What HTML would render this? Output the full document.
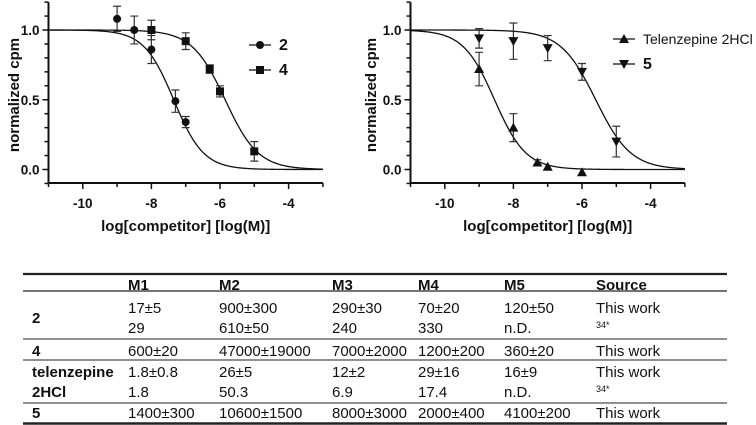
<!DOCTYPE html>
<html><head><meta charset="utf-8"><style>
html,body{margin:0;padding:0;background:#fff;}
svg{display:block;font-family:"Liberation Sans",sans-serif;}
</style></head><body>
<svg id="fig" width="756" height="425" viewBox="0 0 756 425" xmlns="http://www.w3.org/2000/svg">
<g id="left"></g>
<g id="right"></g>
<g id="table" font-size="15" fill="#111"></g>
</svg>
<script>
// chart data
const xTicks = [-10, -8, -6, -4];
const yTicks = [0.0, 0.5, 1.0];
const s2x = [-9, -8.5, -8, -7.3, -7];
const s2y = [1.08, 1.0, 0.86, 0.49, 0.34];
const s2e = [0.09, 0.1, 0.1, 0.08, 0.04];
const s4x = [-8, -7, -6.3, -6, -5];
const s4y = [1.0, 0.92, 0.72, 0.56, 0.13];
const s4e = [0.07, 0.06, 0.03, 0.04, 0.07];
const stx = [-9, -8, -7.3, -7, -6];
const sty = [0.72, 0.30, 0.05, 0.02, -0.02];
const ste = [0.12, 0.1, 0.02, 0.0, 0.0];
const s5x = [-9, -8, -7, -6, -5];
const s5y = [0.94, 0.92, 0.87, 0.70, 0.20];
const s5e = [0.07, 0.13, 0.09, 0.06, 0.11];
const fitLogIC50 = [-7.35, -5.85, -8.55, -5.6];
const fitHill = [1.0, 0.9, 0.95, 0.85];

const NS = "http://www.w3.org/2000/svg";
function mk(tag, attrs, parent) {
  const e = document.createElementNS(NS, tag);
  for (const k in attrs) e.setAttribute(k, attrs[k]);
  parent.appendChild(e);
  return e;
}
function marker(g, type, cx, cy) {
  let e;
  if (type === 'circle') e = mk('circle', {cx: cx, cy: cy, r: 4, fill: '#111'}, g);
  else if (type === 'square') e = mk('rect', {x: cx - 4, y: cy - 4, width: 8, height: 8, fill: '#111'}, g);
  else if (type === 'up') e = mk('polygon', {points: `${cx},${cy - 5} ${cx - 5},${cy + 4} ${cx + 5},${cy + 4}`, fill: '#111'}, g);
  else e = mk('polygon', {points: `${cx},${cy + 5} ${cx - 5},${cy - 4} ${cx + 5},${cy - 4}`, fill: '#111'}, g);
  return e;
}
function drawChart(g, x0, ylabX, series, legend) {
  const sx = v => x0 + (v + 11) * 34.3;
  const sy = v => 169.5 - 139.5 * v;
  const ya = mk('line', {x1: x0, y1: sy(1.2), x2: x0, y2: 183, stroke: '#111', 'stroke-width': 2}, g);
  
  
  const xa = mk('line', {x1: x0 - 1, y1: 183, x2: sx(-3), y2: 183, stroke: '#111', 'stroke-width': 2}, g);
  
  
  for (let i = -1; i <= 12; i++) {
    const v = i / 10;
    const major = Math.abs(v - Math.round(v * 2) / 2) < 1e-9;
    mk('line', {x1: x0 - (major ? 6 : 4), y1: sy(v), x2: x0, y2: sy(v), stroke: '#111', 'stroke-width': 1.5}, g);
  }
  yTicks.forEach(v => {
    const t = mk('text', {x: x0 - 9, y: sy(v) + 5, 'text-anchor': 'end', 'font-size': 13.5, 'font-weight': 'bold', fill: '#111'}, g);
    t.textContent = v.toFixed(1);
    
    
  });
  for (let v = -11; v <= -3; v++) {
    const major = xTicks.includes(v);
    mk('line', {x1: sx(v), y1: 183, x2: sx(v), y2: 183 + (major ? 6 : 4), stroke: '#111', 'stroke-width': 1.5}, g);
  }
  xTicks.forEach(v => {
    const t = mk('text', {x: sx(v), y: 208, 'text-anchor': 'middle', 'font-size': 13.5, 'font-weight': 'bold', fill: '#111'}, g);
    t.textContent = String(v);
    
    
  });
  const xt = mk('text', {x: (x0 + sx(-3)) / 2, y: 231, 'text-anchor': 'middle', 'font-size': 15, 'font-weight': 'bold', fill: '#111'}, g);
  xt.textContent = 'log[competitor] [log(M)]';
  
  
  const yt = mk('text', {x: 0, y: 0, transform: `translate(${ylabX},95) rotate(-90)`, 'text-anchor': 'middle', 'font-size': 15, 'font-weight': 'bold', fill: '#111'}, g);
  yt.textContent = 'normalized cpm';
  
  
  series.forEach((s, si) => {
    const sg = mk('g', {}, g);
    
    
    let d = '';
    for (let k = 0; k <= 200; k++) {
      const v = -11 + 8 * k / 200;
      const yv = 1 / (1 + Math.pow(10, (v - fitLogIC50[s.fit]) * fitHill[s.fit]));
      d += (k ? 'L' : 'M') + sx(v).toFixed(2) + ',' + sy(yv).toFixed(2);
    }
    const c = mk('path', {d: d, fill: 'none', stroke: '#111', 'stroke-width': 1.3}, sg);
    
    
    s.x.forEach((xv, i) => {
      const cx = sx(xv), cy = sy(s.y[i]), e = s.e[i];
      if (e > 0) {
        const eb = mk('path', {d: `M${cx},${sy(s.y[i] + e)}V${sy(s.y[i] - e)}M${cx - 4},${sy(s.y[i] + e)}h8M${cx - 4},${sy(s.y[i] - e)}h8`, stroke: '#333', 'stroke-width': 1.2, fill: 'none'}, sg);
        
        
      }
      const m = marker(sg, s.m, cx, cy);
      
      
    });
  });
  legend.forEach(l => {
    const lg = mk('g', {}, g);
    
    
    mk('line', {x1: l.x, y1: l.y, x2: l.x + 22, y2: l.y, stroke: '#111', 'stroke-width': 1.3}, lg);
    marker(lg, l.m, l.x + 11, l.y);
    const t = mk('text', {x: l.x + 30, y: l.y + 5, 'font-size': l.size, 'font-weight': l.bold ? 'bold' : 'normal', fill: '#111'}, lg);
    t.textContent = l.label;
  });
}
drawChart(document.getElementById('left'), 48.5, 19,
  [{name: '2', x: s2x, y: s2y, e: s2e, m: 'circle', fit: 0},
   {name: '4', x: s4x, y: s4y, e: s4e, m: 'square', fit: 1}],
  [{x: 249, y: 45, m: 'circle', label: '2', size: 16, bold: true},
   {x: 249, y: 70, m: 'square', label: '4', size: 16, bold: true}]);
drawChart(document.getElementById('right'), 410.5, 376,
  [{name: 'telenzepine', x: stx, y: sty, e: ste, m: 'up', fit: 2},
   {name: '5', x: s5x, y: s5y, e: s5e, m: 'down', fit: 3}],
  [{x: 613, y: 39, m: 'up', label: 'Telenzepine 2HCl', size: 14, bold: false},
   {x: 613, y: 64, m: 'down', label: '5', size: 16, bold: true}]);

// table
const tg = document.getElementById('table');
const colX = [32, 128, 219, 332, 418, 504, 596];
const header = ['', 'M1', 'M2', 'M3', 'M4', 'M5', 'Source'];
const rows = [
  [308, ['2', '17±5', '900±300', '290±30', '70±20', '120±50', 'This work']],
  [328, ['', '29', '610±50', '240', '330', 'n.D.', '34*']],
  [351, ['4', '600±20', '47000±19000', '7000±2000', '1200±200', '360±20', 'This work']],
  [372, ['telenzepine', '1.8±0.8', '26±5', '12±2', '29±16', '16±9', 'This work']],
  [392, ['2HCl', '1.8', '50.3', '6.9', '17.4', 'n.D.', '34*']],
  [413, ['5', '1400±300', '10600±1500', '8000±3000', '2000±400', '4100±200', 'This work']]
];
function tline(y, w, name) {
  const l = mk('line', {x1: 23, x2: 727, y1: y, y2: y, stroke: '#222', 'stroke-width': w}, tg);
  
  
}
tline(274, 2.2, 'table-top-rule');
tline(291, 1.2, 'header-rule');
tline(339, 1, 'row-rule');
tline(360, 1, 'row-rule');
tline(403, 1, 'row-rule');
tline(423.5, 2.5, 'table-bottom-rule');
header.forEach((h, i) => {
  const t = mk('text', {x: colX[i], y: 290, 'font-weight': 'bold'}, tg);
  t.textContent = h;
  
  
});
rows.forEach(r => {
  const y = r[0], cells = r[1];
  cells.forEach((c, i) => {
    if (!c) return;
    const yy = (i === 0 && c === '2') ? 318 : y;
    const sup = c === '34*';
    const t = mk('text', {x: colX[i], y: yy + 5 - (sup ? 5 : 0), 'font-weight': i === 0 ? 'bold' : 'normal', 'font-size': sup ? 9 : 15}, tg);
    t.textContent = c;
    
    
  });
});
</script>
</body></html>
